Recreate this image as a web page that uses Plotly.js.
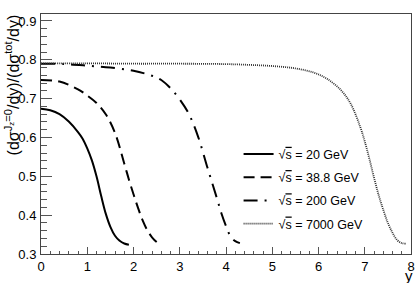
<!DOCTYPE html>
<html>
<head>
<meta charset="utf-8">
<script src="https://cdn.plot.ly/plotly-3.0.1.min.js"></script>
<style>html,body{margin:0;padding:0;background:#fff}#chart{width:415px;height:283px}</style>
</head>
<body>
<div id="chart"></div>
<script>
// Data
var seriesNames = ["\u221As = 20 GeV", "\u221As = 38.8 GeV", "\u221As = 200 GeV", "\u221As = 7000 GeV"];

var x20 = [0, 0.2, 0.4, 0.6, 0.8, 0.9, 1.0, 1.1, 1.2, 1.3, 1.4, 1.5, 1.6, 1.7, 1.8, 1.9];
var y20 = [0.674, 0.670, 0.660, 0.641, 0.614, 0.597, 0.572, 0.541, 0.500, 0.450, 0.404, 0.370, 0.347, 0.334, 0.327, 0.324];

var x38 = [0, 0.4, 0.8, 1.0, 1.2, 1.4, 1.6, 1.8, 1.9, 2.0, 2.1, 2.2, 2.3, 2.4, 2.5, 2.55];
var y38 = [0.748, 0.744, 0.724, 0.708, 0.689, 0.660, 0.612, 0.533, 0.492, 0.454, 0.418, 0.386, 0.361, 0.343, 0.331, 0.327];

var x200 = [0, 0.5, 1.0, 1.5, 2.0, 2.4, 2.6, 2.8, 3.0, 3.2, 3.4, 3.6, 3.8, 3.9, 4.0, 4.1, 4.2, 4.3];
var y200 = [0.790, 0.789, 0.785, 0.780, 0.772, 0.759, 0.748, 0.727, 0.698, 0.660, 0.601, 0.522, 0.445, 0.405, 0.372, 0.345, 0.333, 0.328];

var x7000 = [0, 1, 2, 3, 4, 4.5, 5.0, 5.5, 5.9, 6.2, 6.5, 6.7, 6.9, 7.0, 7.1, 7.2, 7.3, 7.4, 7.5, 7.6, 7.7, 7.8, 7.9];
var y7000 = [0.791, 0.791, 0.790, 0.790, 0.789, 0.787, 0.784, 0.778, 0.767, 0.750, 0.720, 0.686, 0.628, 0.590, 0.545, 0.497, 0.452, 0.414, 0.380, 0.355, 0.336, 0.328, 0.327];

var xTickVals = [0, 1, 2, 3, 4, 5, 6, 7, 8];
var yTickVals = [0.3, 0.4, 0.5, 0.6, 0.7, 0.8, 0.9];

var font = "Liberation Sans, Arial, sans-serif";

function nm(s) {
  return s.replace("\u221As", "\u221A<span style='text-decoration:overline'>s</span>");
}

var traces = [
  {x: x20, y: y20, name: nm(seriesNames[0]), legendgroup: "a",
   line: {color: "#000", width: 2, dash: "solid", shape: "spline"}},
  {x: x38, y: y38, name: nm(seriesNames[1]), legendgroup: "b",
   line: {color: "#000", width: 2, dash: "11px,6px", shape: "spline"}},
  {x: x200, y: y200, name: nm(seriesNames[2]), legendgroup: "c",
   line: {color: "#000", width: 2, dash: "14px,7px,2px,7px", shape: "spline"}},
  {x: x7000, y: y7000, name: nm(seriesNames[3]), legendgroup: "d",
   line: {color: "#333", width: 1.8, dash: "1px,1px", shape: "spline"}}
].map(function (t) { t.type = "scatter"; t.mode = "lines"; return t; });

var layout = {
  width: 415, height: 283,
  margin: {l: 41, r: 4, t: 14, b: 29, pad: 0},
  paper_bgcolor: "#fff", plot_bgcolor: "#fff",
  font: {family: font, size: 13, color: "#000"},
  showlegend: true,
  legend: {
    x: 0.534, y: 0.478, xanchor: "left", yanchor: "top",
    bgcolor: "rgba(0,0,0,0)", borderwidth: 0,
    font: {family: font, size: 12.5, color: "#000"},
    traceorder: "grouped", tracegroupgap: 4
  },
  xaxis: {
    range: [0, 8], tickvals: xTickVals, ticktext: xTickVals.map(String),
    ticks: "inside", ticklen: 7, tickcolor: "#555", tickwidth: 1,
    minor: {dtick: 0.2, ticks: "inside", ticklen: 3.5, tickcolor: "#555", showgrid: false},
    showline: true, linecolor: "#444", linewidth: 1, mirror: true,
    showgrid: false, zeroline: false,
    tickfont: {family: font, size: 13, color: "#000"}
  },
  yaxis: {
    range: [0.3, 0.918], tickvals: yTickVals, ticktext: yTickVals.map(function (v) { return v.toFixed(1); }),
    ticks: "inside", ticklen: 11, tickcolor: "#555", tickwidth: 1,
    minor: {dtick: 0.02, ticks: "inside", ticklen: 5.5, tickcolor: "#555", showgrid: false},
    showline: true, linecolor: "#444", linewidth: 1, mirror: true,
    showgrid: false, zeroline: false, ticklabelstandoff: 1,
    tickfont: {family: font, size: 13, color: "#000"}
  },
  annotations: [
    {xref: "paper", yref: "paper", x: -0.078, y: 1.005, xanchor: "center", yanchor: "top",
     textangle: -90, showarrow: false,
     text: "(d\u03C3<sup>J<sub>z</sub>=0</sup>/dy)/(d\u03C3<sup>tot</sup>/dy)",
     font: {family: font, size: 16, color: "#000"}},
    {xref: "paper", yref: "paper", x: 1.012, y: -0.045, xanchor: "right", yanchor: "top",
     showarrow: false, text: "y", font: {family: font, size: 15, color: "#000"}}
  ]
};

Plotly.newPlot("chart", traces, layout, {staticPlot: true, displayModeBar: false});
</script>
</body>
</html>
